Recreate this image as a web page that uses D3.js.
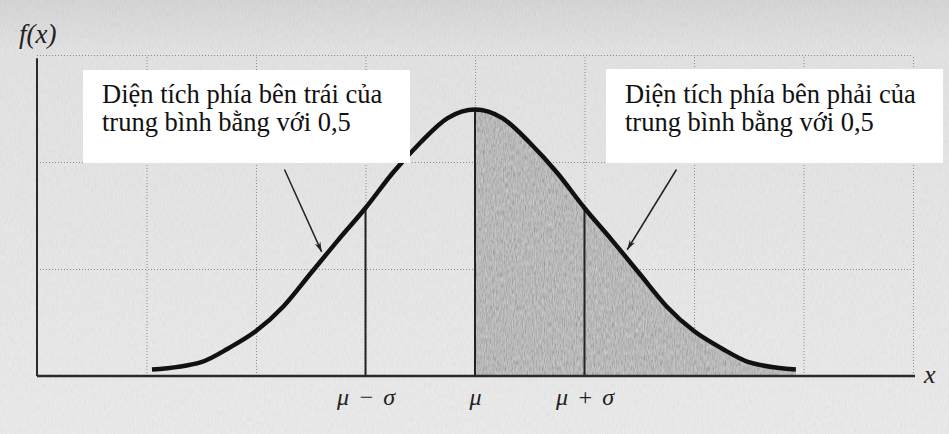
<!DOCTYPE html>
<html>
<head>
<meta charset="utf-8">
<script src="https://cdn.jsdelivr.net/npm/d3@7"></script>
<style>
  html, body { margin: 0; padding: 0; background: #e9e9e9; }
  svg { display: block; }
  .grid line { stroke: #8a8a8a; stroke-width: 1; stroke-dasharray: 1 2; }
  .grid .domain { display: none; }
  .axis .domain { stroke: #2a2a2a; }
</style>
</head>
<body>
<svg id="chart"></svg>
<script>
// curve (x in sigma units, height in grid units)
const curveX = [-2.95, -2.5, -2.25, -2, -1.75, -1.5, -1.25, -1, -0.75, -0.5, -0.25, 0,
                0.25, 0.5, 0.75, 1, 1.25, 1.5, 1.75, 2, 2.25, 2.5, 2.93];
const curveY = [0.06, 0.13, 0.26, 0.42, 0.65, 0.96, 1.27, 1.57, 1.9, 2.18, 2.41, 2.49,
                2.41, 2.18, 1.9, 1.57, 1.27, 0.96, 0.65, 0.42, 0.26, 0.13, 0.06];

// marked positions on the x axis
const markX = [-1, 0, 1];
const markLabels = ["\u03bc \u2212 \u03c3", "\u03bc", "\u03bc + \u03c3"];

// dotted grid
const gridX = [-3, -2, -1, 0, 1, 2, 3, 4];
const gridY = [1, 2, 3];

// text boxes
const noteLines = [
  ["Diện tích phía bên trái của", "trung bình bằng với 0,5"],
  ["Diện tích phía bên phải của", "trung bình bằng với 0,5"]
];
// arrows: [from x, from y, to x, to y] in data units
const arrows = [
  [-1.74, 1.93, -1.40, 1.16],
  [1.84, 1.93, 1.39, 1.18]
];

const SERIF = '"Liberation Serif"';
const W = 949, H = 434;
const svg = d3.select('#chart').attr('width', W).attr('height', H);

const x = d3.scaleLinear().domain([-4, 4]).range([37, 913]);
const y = d3.scaleLinear().domain([0, 3]).range([376, 55]);

const data = curveX.map((d, i) => ({x: d, y: curveY[i]}));

const defs = svg.append('defs');
const bg = defs.append('linearGradient').attr('id', 'paper')
    .attr('x1', 0).attr('y1', 0).attr('x2', 0).attr('y2', 1);
bg.append('stop').attr('offset', '0%').attr('stop-color', '#d6d6d6');
bg.append('stop').attr('offset', '12%').attr('stop-color', '#e4e4e4');
bg.append('stop').attr('offset', '100%').attr('stop-color', '#ececec');

const noise = defs.append('filter').attr('id', 'noise')
    .attr('x', 0).attr('y', 0).attr('width', '100%').attr('height', '100%');
noise.append('feTurbulence').attr('type', 'fractalNoise')
    .attr('baseFrequency', '0.9 0.18').attr('numOctaves', 2).attr('seed', 4);
noise.append('feColorMatrix').attr('type', 'matrix')
    .attr('values', '1 0 0 0 0  1 0 0 0 0  1 0 0 0 0  0 0 0 0 1');

// paper
svg.append('rect').attr('width', W).attr('height', H).attr('fill', 'url(#paper)');
svg.append('rect').attr('width', W).attr('height', H)
    .attr('filter', 'url(#noise)').attr('opacity', 0.08);

// grid
svg.append('g').attr('class', 'grid')
    .attr('transform', `translate(0,${y(0)})`)
    .call(d3.axisBottom(x).tickValues(gridX).tickSize(-(y(0) - y(3))).tickFormat(''));
svg.append('g').attr('class', 'grid')
    .attr('transform', `translate(${x(-4)},0)`)
    .call(d3.axisLeft(y).tickValues(gridY).tickSize(-(x(4) - x(-4))).tickFormat(''));

// shaded right half
const right = data.filter(d => d.x >= 0);
const area = d3.area().x(d => x(d.x)).y0(y(0)).y1(d => y(d.y)).curve(d3.curveMonotoneX);
defs.append('clipPath').attr('id', 'shade').append('path').attr('d', area(right));
const shade = svg.append('g').attr('clip-path', 'url(#shade)');
shade.append('rect').attr('x', x(0)).attr('y', y(3)).attr('width', x(3) - x(0)).attr('height', y(0) - y(3))
    .attr('fill', '#b6b6b6');
shade.append('rect').attr('x', x(0)).attr('y', y(3)).attr('width', x(3) - x(0)).attr('height', y(0) - y(3))
    .attr('filter', 'url(#noise)').attr('opacity', 0.4);

// vertical markers up to the curve
svg.append('g').selectAll('line')
  .data(markX)
  .join('line')
    .attr('x1', d => x(d)).attr('x2', d => x(d))
    .attr('y1', y(0))
    .attr('y2', d => y(curveY[curveX.indexOf(d)]))
    .attr('stroke', '#222').attr('stroke-width', 2);

// axes
const xAxis = svg.append('g').attr('class', 'axis')
    .attr('transform', `translate(0,${y(0)})`)
    .call(d3.axisBottom(x).tickValues(markX).tickSize(0).tickPadding(12)
      .tickFormat((d, i) => markLabels[i]));
xAxis.select('.domain').attr('d', `M${x(-4)},0H${x(4) + 2}`).attr('stroke-width', 2.5);
xAxis.attr('font-family', null);
xAxis.selectAll('.tick text')
    .style('font-family', SERIF).style('font-style', 'italic')
    .style('font-size', '24px').style('word-spacing', '3px').attr('fill', '#222');

const yAxis = svg.append('g').attr('class', 'axis')
    .attr('transform', `translate(${x(-4)},0)`)
    .call(d3.axisLeft(y).tickValues([]).tickSize(0));
yAxis.select('.domain').attr('d', `M0,${y(2.97)}V${y(0)}`).attr('stroke-width', 2);

svg.append('text')
    .attr('x', 19).attr('y', 43)
    .style('font-family', SERIF).style('font-style', 'italic').style('font-size', '27px')
    .attr('fill', '#222')
    .text('f(x)');
svg.append('text')
    .attr('x', 924).attr('y', 383)
    .style('font-family', SERIF).style('font-style', 'italic').style('font-size', '26px')
    .attr('fill', '#222')
    .text('x');

// the curve
svg.append('path')
    .datum(data)
    .attr('fill', 'none')
    .attr('stroke', '#111')
    .attr('stroke-width', 4.5)
    .attr('d', d3.line().x(d => x(d.x)).y(d => y(d.y)).curve(d3.curveMonotoneX));

// text boxes
const boxes = [
  {x: 83, y: 70, w: 327, h: 93, tx: 102},
  {x: 606, y: 69, w: 337, h: 94, tx: 625}
];
const note = svg.append('g').selectAll('g')
  .data(boxes)
  .join('g');
note.append('rect')
    .attr('x', d => d.x).attr('y', d => d.y)
    .attr('width', d => d.w).attr('height', d => d.h)
    .attr('fill', '#fff');
note.each(function(d, i) {
  d3.select(this).selectAll('text')
    .data(noteLines[i])
    .join('text')
      .attr('x', d.tx)
      .attr('y', (t, j) => 103 + j * 28)
      .style('font-family', SERIF).style('font-size', '26.5px')
      .attr('fill', '#111')
      .text(t => t);
});

// arrows
defs.append('marker').attr('id', 'head')
    .attr('viewBox', '0 0 10 6').attr('refX', 10).attr('refY', 3)
    .attr('markerWidth', 10).attr('markerHeight', 6)
    .attr('markerUnits', 'userSpaceOnUse').attr('orient', 'auto')
  .append('path').attr('d', 'M0,0L10,3L0,6L3,3Z').attr('fill', '#222');
svg.append('g').selectAll('line')
  .data(arrows)
  .join('line')
    .attr('x1', d => x(d[0])).attr('y1', d => y(d[1]))
    .attr('x2', d => x(d[2])).attr('y2', d => y(d[3]))
    .attr('stroke', '#222').attr('stroke-width', 1.5)
    .attr('marker-end', 'url(#head)');
</script>
</body>
</html>
